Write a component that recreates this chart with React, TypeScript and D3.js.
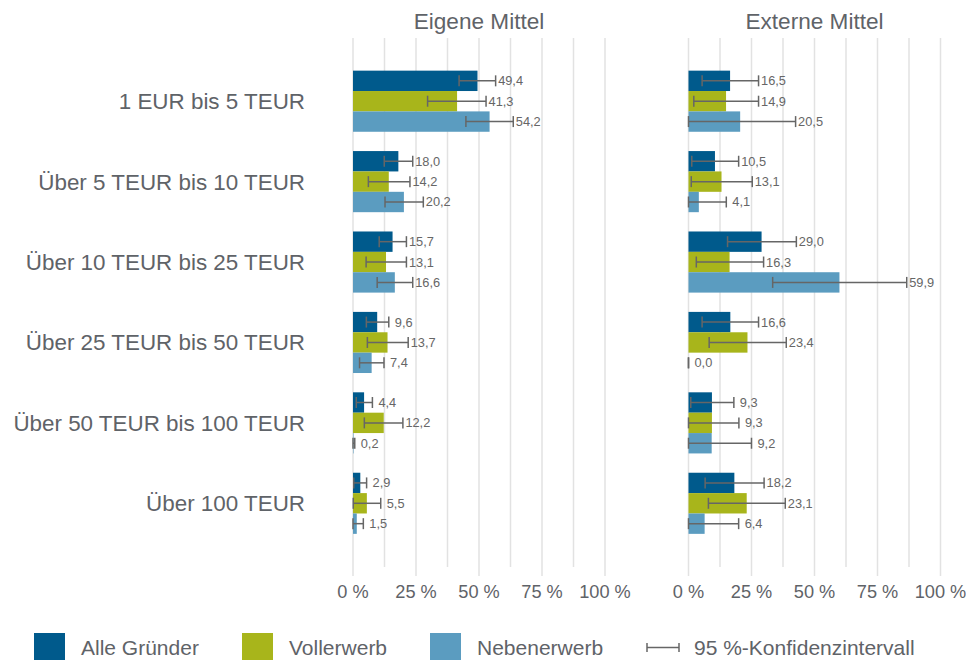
import * as d3 from "d3";
import { useEffect, useRef } from "react";

const categories = [
  "1 EUR bis 5 TEUR",
  "Über 5 TEUR bis 10 TEUR",
  "Über 10 TEUR bis 25 TEUR",
  "Über 25 TEUR bis 50 TEUR",
  "Über 50 TEUR bis 100 TEUR",
  "Über 100 TEUR",
];

const seriesNames = ["Alle Gründer", "Vollerwerb", "Nebenerwerb"];
const seriesColors = ["#005a8c", "#a8b51b", "#5b9cc0"];

// Eigene Mittel: values and 95 % confidence bounds
const eigeneAlle = [49.4, 18.0, 15.7, 9.6, 4.4, 2.9];
const eigeneVoll = [41.3, 14.2, 13.1, 13.7, 12.2, 5.5];
const eigeneNeben = [54.2, 20.2, 16.6, 7.4, 0.2, 1.5];
const eigeneAlleLo = [42.1, 12.4, 10.4, 5.3, 1.3, 0.3];
const eigeneAlleHi = [56.6, 23.7, 21.2, 14.2, 7.7, 5.4];
const eigeneVollLo = [29.6, 6.1, 5.2, 5.7, 4.5, 0.1];
const eigeneVollHi = [52.8, 22.6, 21.2, 21.9, 19.8, 11.0];
const eigeneNebenLo = [44.8, 12.7, 9.6, 2.6, 0.0, 0.0];
const eigeneNebenHi = [63.6, 27.9, 23.7, 12.3, 0.7, 4.1];

// Externe Mittel
const externeAlle = [16.5, 10.5, 29.0, 16.6, 9.3, 18.2];
const externeVoll = [14.9, 13.1, 16.3, 23.4, 9.3, 23.1];
const externeNeben = [20.5, 4.1, 59.9, 0.0, 9.2, 6.4];
const externeAlleLo = [5.4, 1.3, 15.5, 5.4, 0.9, 6.6];
const externeAlleHi = [27.8, 19.9, 42.8, 27.8, 18.0, 30.0];
const externeVollLo = [2.1, 1.1, 3.1, 8.2, 0.0, 7.9];
const externeVollHi = [27.8, 25.3, 29.8, 38.8, 20.0, 38.4];
const externeNebenLo = [0.0, 0.0, 33.4, 0.0, 0.0, 0.0];
const externeNebenHi = [42.5, 15.0, 86.6, 0.0, 25.0, 19.9];

const xTicks = [0, 25, 50, 75, 100];
const gridTicks = [0, 12.5, 25, 37.5, 50, 62.5, 75, 87.5, 100];

const panelTitles = ["Eigene Mittel", "Externe Mittel"];
const ciLabel = "95 %-Konfidenzintervall";

export default function App() {
  const ref = useRef<SVGSVGElement>(null);

  useEffect(() => {
    if (!ref.current) return;
    const el = ref.current;
    d3.select(el).selectAll("*").remove();

    const W = 966;
    const H = 660;
    const text = "#5f6368";
    const whisk = "#666666";
    const grid = "#e2e2e2";
    const font = "'Liberation Sans', Arial, sans-serif";

    const svg = d3.select(el).attr("width", W).attr("height", H).attr("font-family", font);

    const panels = [
      {
        title: panelTitles[0],
        x0: 353,
        vals: [eigeneAlle, eigeneVoll, eigeneNeben],
        lo: [eigeneAlleLo, eigeneVollLo, eigeneNebenLo],
        hi: [eigeneAlleHi, eigeneVollHi, eigeneNebenHi],
      },
      {
        title: panelTitles[1],
        x0: 688.5,
        vals: [externeAlle, externeVoll, externeNeben],
        lo: [externeAlleLo, externeVollLo, externeNebenLo],
        hi: [externeAlleHi, externeVollHi, externeNebenHi],
      },
    ];

    const y = d3.scaleBand().domain(categories).range([61, 543.5]).paddingInner(0.24).paddingOuter(0.12);
    const ys = d3.scaleBand().domain(seriesNames).range([0, y.bandwidth()]);

    // category labels
    svg
      .append("g")
      .selectAll("text")
      .data(categories)
      .join("text")
      .attr("x", 305)
      .attr("y", d => y(d)! + y.bandwidth() / 2 + 8)
      .attr("text-anchor", "end")
      .attr("font-size", 22.4)
      .attr("fill", text)
      .text(d => d);

    panels.forEach(p => {
      const x = d3.scaleLinear().domain([0, 100]).range([p.x0, p.x0 + 252]);
      const g = svg.append("g");

      g.append("text")
        .attr("x", x(50))
        .attr("y", 29)
        .attr("text-anchor", "middle")
        .attr("font-size", 22.6)
        .attr("fill", text)
        .text(p.title);

      // grid
      g.selectAll(".grid")
        .data(gridTicks)
        .join("line")
        .attr("x1", d => x(d))
        .attr("x2", d => x(d))
        .attr("y1", 38)
        .attr("y2", d => (d % 25 === 0 ? 576 : 567))
        .attr("stroke", grid)
        .attr("stroke-width", 1.5);

      // tick labels
      g.selectAll(".tick")
        .data(xTicks)
        .join("text")
        .attr("x", d => x(d))
        .attr("y", 598)
        .attr("text-anchor", "middle")
        .attr("font-size", 18.2)
        .attr("fill", text)
        .text(d => `${d} %`);

      seriesNames.forEach((s, si) => {
        const rows = categories.map((c, i) => ({
          c,
          v: p.vals[si][i],
          lo: p.lo[si][i],
          hi: p.hi[si][i],
        }));
        const sg = g.append("g");
        const yy = (c: string) => y(c)! + ys(s)!;
        const bh = ys.bandwidth();

        sg.selectAll("rect")
          .data(rows)
          .join("rect")
          .attr("x", x(0))
          .attr("y", d => yy(d.c))
          .attr("width", d => x(d.v) - x(0))
          .attr("height", bh)
          .attr("fill", seriesColors[si]);

        const eb = sg.selectAll(".eb").data(rows).join("g");
        eb.append("line")
          .attr("x1", d => x(d.lo))
          .attr("x2", d => x(d.hi))
          .attr("y1", d => yy(d.c) + bh / 2)
          .attr("y2", d => yy(d.c) + bh / 2)
          .attr("stroke", whisk)
          .attr("stroke-width", 1.5);
        [0, 1].forEach(k => {
          eb.append("line")
            .attr("x1", d => x(k ? d.hi : d.lo))
            .attr("x2", d => x(k ? d.hi : d.lo))
            .attr("y1", d => yy(d.c) + bh / 2 - 5.5)
            .attr("y2", d => yy(d.c) + bh / 2 + 5.5)
            .attr("stroke", whisk)
            .attr("stroke-width", 1.5);
        });

        sg.selectAll(".lbl")
          .data(rows)
          .join("text")
          .attr("x", d => x(d.hi) + (d.v < 10 ? 6 : 2.5))
          .attr("y", d => yy(d.c) + bh / 2 + 4.5)
          .attr("font-size", 12.8)
          .attr("fill", "#666666")
          .text(d => d3.format(".1f")(d.v).replace(".", ","));
      });
    });

    // legend
    const lg = svg.append("g");
    const legX = [34, 242, 430];
    seriesNames.forEach((s, i) => {
      lg.append("rect")
        .attr("x", legX[i])
        .attr("y", 633)
        .attr("width", 31)
        .attr("height", 29)
        .attr("fill", seriesColors[i]);
      lg.append("text")
        .attr("x", legX[i] + 47)
        .attr("y", 655)
        .attr("font-size", 21)
        .attr("fill", text)
        .text(s);
    });
    lg.append("line").attr("x1", 647).attr("x2", 679).attr("y1", 647.5).attr("y2", 647.5).attr("stroke", whisk).attr("stroke-width", 1.5);
    [647, 679].forEach(xx =>
      lg.append("line").attr("x1", xx).attr("x2", xx).attr("y1", 643).attr("y2", 652).attr("stroke", whisk).attr("stroke-width", 1.5)
    );
    lg.append("text").attr("x", 694).attr("y", 655).attr("font-size", 21).attr("fill", text).text(ciLabel);
  }, []);

  return <svg ref={ref} style={{ position: "absolute", left: 0, top: 0, display: "block" }} />;
}
